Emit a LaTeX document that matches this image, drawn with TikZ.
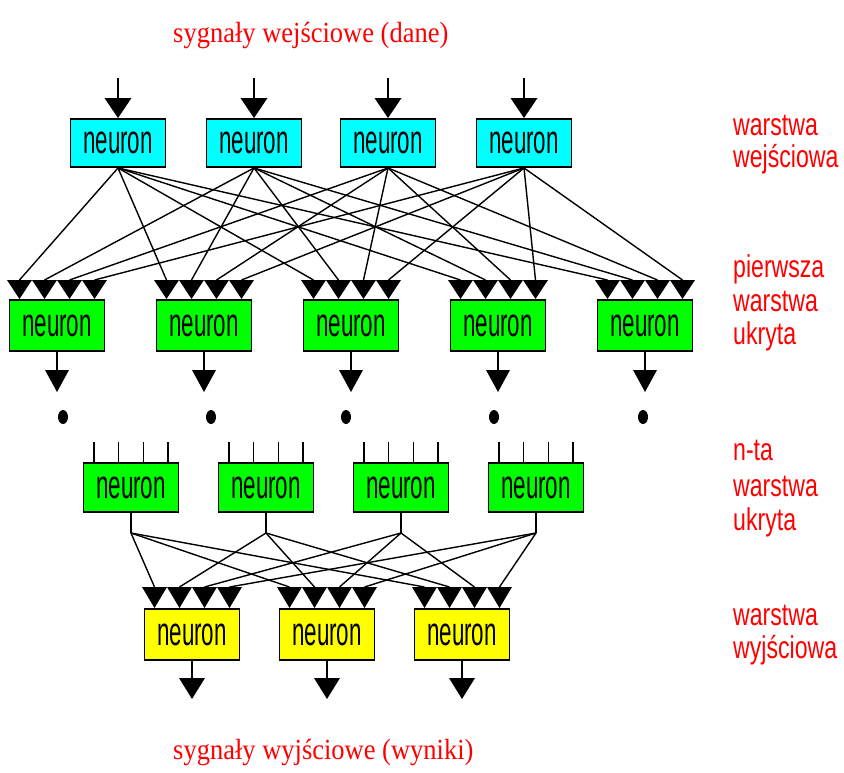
\documentclass[tikz,border=0pt]{standalone}
\usepackage{fontspec}
\setmainfont{Liberation Serif}
\newfontfamily\sansf{Liberation Sans}
\usepackage{graphicx}
\definecolor{ncyan}{RGB}{0,255,255}
\definecolor{ngreen}{RGB}{0,255,0}
\definecolor{nyellow}{RGB}{255,255,0}
\definecolor{nred}{RGB}{255,0,0}
\newcommand\nrn{\scalebox{0.56}[1]{neuron}}
\newcommand\nar[1]{\scalebox{0.77}[1.05]{#1}}
\newcommand\ttltext[1]{\scalebox{1}[1.1]{#1}}
\tikzset{
  neuronbox/.style={draw=black, line width=1.9pt, minimum width=95pt, minimum height=49pt,
    inner sep=0pt, font=\sansf\fontsize{40}{40}\selectfont},
  conn/.style={line width=1.4pt},
  lbl/.style={text=nred, anchor=base west, inner sep=0pt, font=\sansf\fontsize{30}{30}\selectfont},
  ttl/.style={text=nred, anchor=base west, inner sep=0pt, font=\fontsize{26.5}{30}\selectfont},
}
\begin{document}
\begin{tikzpicture}[x=1pt,y=-1pt]
\useasboundingbox[fill=white] (0,0) rectangle (844,772);

% titles
\node[ttl] (tin) at (173,42) {\ttltext{sygnały wejściowe (dane)}};
\node[ttl] (tout) at (173,759) {\ttltext{sygnały wyjściowe (wyniki)}};

% right labels
\node[lbl] (l1a) at (733,135) {\nar{warstwa}};
\node[lbl] (l1b) at (733,167) {\nar{wejściowa}};
\node[lbl] (l2a) at (733,277) {\nar{pierwsza}};
\node[lbl] (l2b) at (733,311) {\nar{warstwa}};
\node[lbl] (l2c) at (733,344) {\nar{ukryta}};
\node[lbl] (l3a) at (733,460) {\nar{n-ta}};
\node[lbl] (l3b) at (733,496) {\nar{warstwa}};
\node[lbl] (l3c) at (733,530) {\nar{ukryta}};
\node[lbl] (l4a) at (733,625) {\nar{warstwa}};
\node[lbl] (l4b) at (733,658) {\nar{wyjściowa}};

% input layer
\foreach \i/\cx in {1/118,2/254,3/388,4/524} {
  \node[neuronbox, fill=ncyan, minimum height=48pt] (in\i) at (\cx,143) {\nrn};
  \coordinate (ia\i) at (\cx,78);
  \draw[conn] (ia\i) -- (\cx,99);
  \fill (\cx-13.5,98) -- (\cx+13.5,98) -- (in\i.north) -- cycle;
}

% first hidden layer
\foreach \j/\cx in {1/57,2/204,3/351,4/498,5/645} {
  \node[neuronbox, fill=ngreen, minimum height=51pt] (h\j) at (\cx,325.5) {\nrn};
  \foreach \i/\o in {1/-37.5,2/-12.5,3/12.5,4/37.5} {
    \pgfmathsetmacro\tx{\cx+\o}
    \coordinate (h\j-\i) at (\tx,280);
    \fill (\tx-12.5,280) -- (\tx+12.5,280) -- (\tx,299) -- cycle;
  }
  \coordinate (hb\j) at (\cx,371);
  \draw[conn] (h\j.south) -- (hb\j);
  \fill (\cx-12,370) -- (\cx+12,370) -- (\cx,392) -- cycle;
}
\foreach \i in {1,...,4} {
  \foreach \j in {1,...,5} {
    \draw[conn] (in\i.south) -- (h\j-\i);
  }
}

% dots
\foreach \x in {63,211,346,494,643} {
  \fill (\x,417) ellipse [x radius=5pt, y radius=7pt];
}

% n-th hidden layer
\foreach \j/\cx in {1/131,2/266,3/401,4/536} {
  \node[neuronbox, fill=ngreen] (n\j) at (\cx,487.5) {\nrn};
  \foreach \i/\o in {1/-37,2/-12.5,3/12.5,4/37} {
    \pgfmathsetmacro\tx{\cx+\o}
    \coordinate (ns\j-\i) at (\tx,442);
    \draw[conn] (ns\j-\i) -- (\tx,462);
  }
  \coordinate (nj\j) at (\cx,533);
  \draw[conn] (n\j.south) -- (nj\j);
}

% output layer
\foreach \k/\cx in {1/192,2/327,3/462} {
  \node[neuronbox, fill=nyellow, minimum height=51pt] (o\k) at (\cx,634.5) {\nrn};
  \foreach \i/\o in {1/-37.5,2/-12.5,3/12.5,4/37.5} {
    \pgfmathsetmacro\tx{\cx+\o}
    \coordinate (o\k-\i) at (\tx,587);
    \fill (\tx-12.5,587) -- (\tx+12.5,587) -- (\tx,608) -- cycle;
  }
  \coordinate (ob\k) at (\cx,679);
  \draw[conn] (o\k.south) -- (ob\k);
  \fill (\cx-13,678) -- (\cx+13,678) -- (\cx,699) -- cycle;
}
\foreach \j in {1,...,4} {
  \foreach \k in {1,...,3} {
    \draw[conn] (nj\j) -- (o\k-\j);
  }
}
\end{tikzpicture}
\end{document}
